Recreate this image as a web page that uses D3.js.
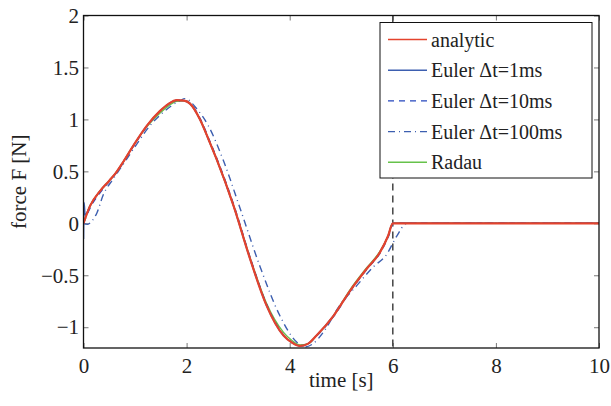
<!DOCTYPE html>
<html>
<head>
<meta charset="utf-8">
<script src="https://cdn.jsdelivr.net/npm/d3@7"></script>
<style>
  body { margin: 0; background: #fff; }
</style>
</head>
<body>
<div id="chart-area"></div>
<script>
// force over time
var tAnalytic = [0, 0.13, 0.32, 0.5, 0.62, 0.77, 0.97, 1.23, 1.48, 1.65, 1.81, 1.95, 2.07, 2.26, 2.44, 2.58, 2.91, 3.23, 3.55, 3.88, 4.05, 4.2, 4.35, 4.52, 4.85, 5.17, 5.49, 5.75, 5.91, 6.0, 7, 8, 9, 10];
var fAnalytic = [0, 0.17, 0.31, 0.41, 0.48, 0.59, 0.75, 0.94, 1.08, 1.15, 1.185, 1.18, 1.15, 1.0, 0.79, 0.62, 0.17, -0.34, -0.79, -1.08, -1.15, -1.18, -1.16, -1.08, -0.89, -0.65, -0.44, -0.28, -0.12, 0, 0, 0, 0, 0];

var tEuler1 = [0, 0.01, 0.03, 0.13, 0.32, 0.5, 0.62, 0.77, 0.97, 1.23, 1.48, 1.65, 1.81, 1.95, 2.07, 2.26, 2.44, 2.58, 2.91, 3.23, 3.55, 3.88, 4.05, 4.2, 4.35, 4.52, 4.85, 5.17, 5.49, 5.75, 5.91, 6.0, 7, 8, 9, 10];
var fEuler1 = [-0.15, 0.2, 0.08, 0.17, 0.31, 0.41, 0.48, 0.59, 0.75, 0.94, 1.08, 1.15, 1.185, 1.18, 1.15, 1.0, 0.79, 0.62, 0.17, -0.34, -0.79, -1.08, -1.15, -1.18, -1.16, -1.08, -0.89, -0.65, -0.44, -0.28, -0.12, 0, 0, 0, 0, 0];

var tEuler10 = [0, 0.14, 0.33, 0.51, 0.63, 0.78, 0.98, 1.24, 1.49, 1.66, 1.82, 1.96, 2.08, 2.27, 2.45, 2.59, 2.92, 3.24, 3.56, 3.89, 4.06, 4.21, 4.36, 4.53, 4.86, 5.18, 5.5, 5.76, 5.92, 6.01, 7, 8, 9, 10];
var fEuler10 = [0, 0.16, 0.3, 0.41, 0.48, 0.59, 0.75, 0.94, 1.08, 1.15, 1.185, 1.18, 1.15, 1.0, 0.79, 0.62, 0.17, -0.34, -0.79, -1.08, -1.15, -1.18, -1.16, -1.08, -0.89, -0.65, -0.44, -0.28, -0.12, 0, 0, 0, 0, 0];

var tEuler100 = [0, 0.08, 0.16, 0.26, 0.38, 0.58, 0.8, 1.03, 1.29, 1.55, 1.87, 1.97, 2.2, 2.42, 2.71, 3.04, 3.42, 3.81, 4.13, 4.3, 4.45, 4.65, 4.97, 5.3, 5.62, 5.88, 6.08, 6.27, 7, 8, 9, 10];
var fEuler100 = [0, -0.01, 0.02, 0.1, 0.27, 0.43, 0.59, 0.76, 0.94, 1.07, 1.18, 1.2, 1.1, 0.94, 0.61, 0.14, -0.41, -0.89, -1.14, -1.19, -1.16, -1.05, -0.79, -0.6, -0.42, -0.3, -0.12, 0, 0, 0, 0, 0];

var tRadau = [0, 0.13, 0.32, 0.5, 0.62, 0.77, 0.97, 1.23, 1.48, 1.65, 1.81, 1.95, 2.07, 2.26, 2.44, 2.58, 2.91, 3.23, 3.55, 3.88, 4.05, 4.2, 4.35, 4.52, 4.85, 5.17, 5.49, 5.75, 5.91, 6.0, 7, 8, 9, 10];
var fRadau = [0, 0.17, 0.31, 0.41, 0.48, 0.59, 0.75, 0.93, 1.06, 1.13, 1.175, 1.18, 1.15, 1.0, 0.79, 0.62, 0.17, -0.33, -0.77, -1.05, -1.13, -1.17, -1.16, -1.08, -0.89, -0.64, -0.43, -0.27, -0.12, 0, 0, 0, 0, 0];

var seriesNames = ["analytic", "Euler \u0394t=1ms", "Euler \u0394t=10ms", "Euler \u0394t=100ms", "Radau"];
var xTicks = [0, 2, 4, 6, 8, 10];
var yTicks = [-1, -0.5, 0, 0.5, 1, 1.5, 2];
var switchTime = 6;

var serif = "'Liberation Serif', 'DejaVu Serif', serif";

// SVG size
var margin = {top: 15.5, right: 12, bottom: 58, left: 83.5};
var W = 611, H = 406;
var w = W - margin.left - margin.right;
var h = H - margin.top - margin.bottom;

var svg = d3.select("#chart-area").append("svg")
	.attr("width", W)
	.attr("height", H);

var g = svg.append("g")
	.attr("transform", "translate(" + margin.left + "," + margin.top + ")");

var x = d3.scaleLinear().domain([0, 10]).range([0, w]);
var y = d3.scaleLinear().domain([-1.2, 2]).range([h, 0]);

var fmt = d3.format("");

// axes, ticks pointing inward on all four sides
g.append("g").attr("transform", "translate(0," + h + ")")
	.call(d3.axisBottom(x).tickValues(xTicks).tickSize(-5).tickPadding(10).tickFormat(fmt));
g.append("g")
	.call(d3.axisLeft(y).tickValues(yTicks).tickSize(-5).tickPadding(4.5).tickFormat(fmt));
g.append("g")
	.call(d3.axisTop(x).tickValues(xTicks).tickSize(-5).tickFormat(""));
g.append("g").attr("transform", "translate(" + w + ",0)")
	.call(d3.axisRight(y).tickValues(yTicks).tickSize(-5).tickFormat(""));

g.selectAll(".domain").remove();
g.selectAll(".tick line").attr("stroke", "#777").attr("stroke-width", 1);
g.selectAll(".tick text")
	.style("font-family", serif)
	.style("font-size", "21px")
	.style("fill", "#222");

// clip for curves
svg.append("clipPath").attr("id", "clip")
	.append("rect").attr("x", 0).attr("y", -2).attr("width", w).attr("height", h + 4);

var line = d3.line()
	.x(function(d){ return x(d[0]); })
	.y(function(d){ return y(d[1]); })
	.curve(d3.curveMonotoneX);

function pairs(ts, fs) {
	return ts.map(function(t, i){ return [t, fs[i]]; });
}

var series = [
	{name: seriesNames[4], data: pairs(tRadau, fRadau), color: "#66c24a", width: 1.4, dash: null},
	{name: seriesNames[1], data: pairs(tEuler1, fEuler1), color: "#3d5fb0", width: 1.6, dash: null},
	{name: seriesNames[2], data: pairs(tEuler10, fEuler10), color: "#2546bd", width: 1.4, dash: "6,5"},
	{name: seriesNames[3], data: pairs(tEuler100, fEuler100), color: "#3d5fb0", width: 1.4, dash: "7,4,1,4"},
	{name: seriesNames[0], data: pairs(tAnalytic, fAnalytic), color: "#e4432d", width: 2.2, dash: null}
];

var plot = g.append("g").attr("clip-path", "url(#clip)");

// dashed marker line at the switching time
plot.append("line")
	.attr("x1", x(switchTime)).attr("x2", x(switchTime))
	.attr("y1", 0).attr("y2", h)
	.attr("stroke", "#444").attr("stroke-width", 1.5)
	.attr("stroke-dasharray", "7,5");

plot.selectAll("path.series")
	.data(series)
	.enter().append("path")
	.attr("class", "series")
	.attr("d", function(d){ return line(d.data); })
	.attr("fill", "none")
	.attr("stroke", function(d){ return d.color; })
	.attr("stroke-width", function(d){ return d.width; })
	.attr("stroke-dasharray", function(d){ return d.dash; });

// box
g.append("rect")
	.attr("width", w).attr("height", h)
	.attr("fill", "none").attr("stroke", "#111").attr("stroke-width", 1.3);

// legend
var legendOrder = [4, 1, 2, 3, 0];  // analytic, 1ms, 10ms, 100ms, Radau
var legend = svg.append("g").attr("transform", "translate(380,22.5)");
legend.append("rect")
	.attr("width", 212).attr("height", 155.5)
	.attr("fill", "#fff").attr("stroke", "#111").attr("stroke-width", 1);

var item = legend.selectAll("g.item")
	.data(legendOrder)
	.enter().append("g")
	.attr("class", "item")
	.attr("transform", function(d, i){ return "translate(0," + (17 + i * 30.7) + ")"; });

item.append("line")
	.attr("x1", 8).attr("x2", 47)
	.attr("stroke", function(d){ return series[d].color; })
	.attr("stroke-width", function(d){ return Math.min(series[d].width, 1.6); })
	.attr("stroke-dasharray", function(d){ return series[d].dash; });

item.append("text")
	.attr("x", 51).attr("y", 7)
	.style("font-family", serif)
	.style("font-size", "20px")
	.style("fill", "#222")
	.text(function(d){ return series[d].name; });

// axis labels
svg.append("text")
	.attr("x", margin.left + w / 2).attr("y", 387)
	.attr("text-anchor", "middle")
	.style("font-family", serif)
	.style("font-size", "21px")
	.style("fill", "#222")
	.text("time [s]");

svg.append("text")
	.attr("transform", "translate(26," + (margin.top + h / 2) + ") rotate(-90)")
	.attr("text-anchor", "middle")
	.style("font-family", serif)
	.style("font-size", "21px")
	.style("fill", "#222")
	.text("force F [N]");
</script>
</body>
</html>
